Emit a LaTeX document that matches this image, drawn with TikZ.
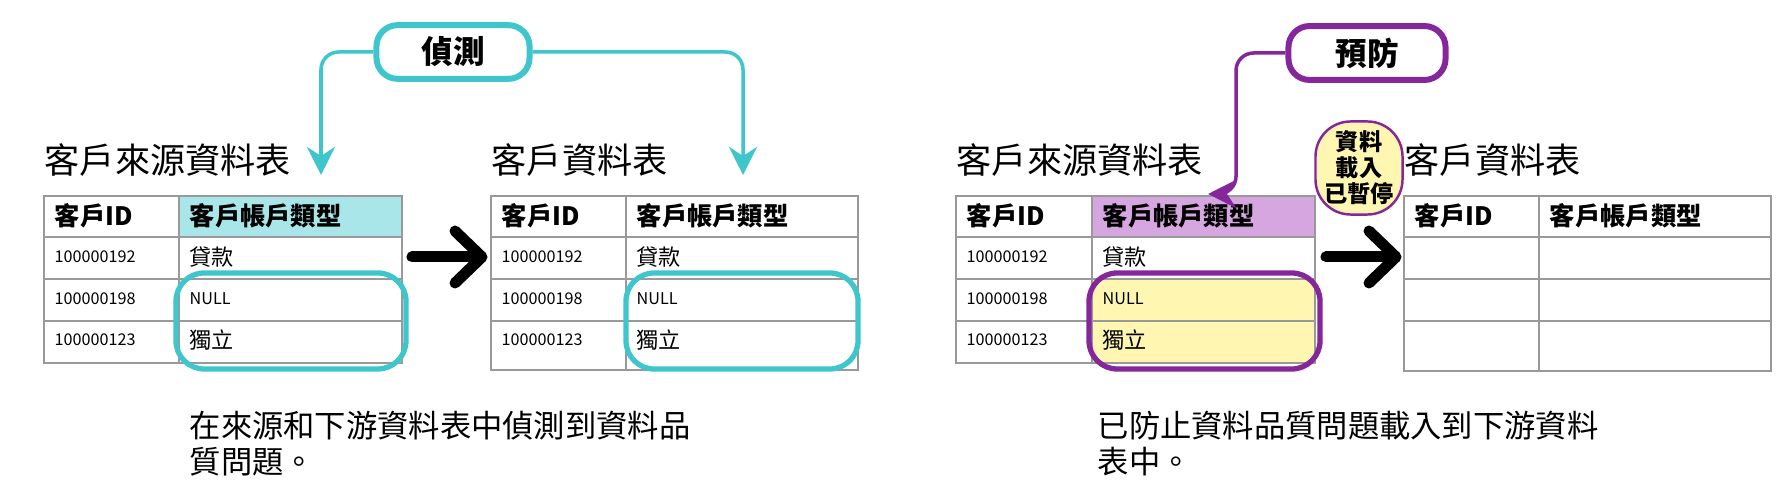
\documentclass[tikz,border=0pt]{standalone}
\usepackage{fontspec}
\setmainfont{Noto Sans CJK TC}
\usetikzlibrary{arrows.meta,positioning}
\definecolor{detcol}{HTML}{3EC6CC}
\definecolor{detlight}{HTML}{A8E6EA}
\definecolor{purp}{HTML}{85279B}
\definecolor{purplight}{HTML}{D6A6E0}
\definecolor{yel}{HTML}{FFF6B2}
\tikzstyle{grid}=[draw=black!40, line width=0.7pt]
\tikzstyle{title}=[anchor=west, font=\fontsize{10pt}{11pt}\selectfont, inner sep=0pt]
\tikzstyle{head}=[anchor=west, font=\fontsize{7.2pt}{8pt}\selectfont\bfseries, inner sep=0pt]
\tikzstyle{cell}=[anchor=west, font=\fontsize{6.3pt}{7pt}\selectfont, inner sep=0pt]
\tikzstyle{num}=[anchor=west, font=\fontsize{4.6pt}{5pt}\selectfont, inner sep=0pt]
\tikzstyle{caption}=[anchor=north west, align=left, font=\fontsize{8.9pt}{10.3pt}\selectfont, inner sep=0pt]
\tikzstyle{tag}=[draw, rounded corners=6pt, line width=1.7pt, fill=white, font=\fontsize{9pt}{10pt}\selectfont\bfseries, minimum height=0.52cm]
\tikzstyle{bigarrow}=[line width=0.11cm, line cap=round, line join=round]
% #1 left, #2 split, #3 right, #4 bottom
\newcommand{\gridtable}[4]
{
  \draw[grid] (#1,196) rectangle (#3,#4);
  \draw[grid] (#2,196) -- (#2,#4);
  \foreach \yy in {237,279,321}
    \draw[grid] (#1,\yy) -- (#3,\yy);
}
\begin{document}
\begin{tikzpicture}[x=0.01cm, y=-0.01cm]
  \useasboundingbox (0,0) rectangle (1782,504);

  % detection
  \fill[detlight] (179,196) rectangle (402,237);
  \gridtable{44}{179}{402}{363}
  \gridtable{491}{626}{858}{370}
  \node[title] (srcA) at (44,160) {客戶來源資料表};
  \node[title] (dstA) at (491,160) {客戶資料表};
  \node[head] at (54,216) {客戶ID};
  \node[head] at (189,216) {客戶帳戶類型};
  \node[head] at (501,216) {客戶ID};
  \node[head] at (636,216) {客戶帳戶類型};
  \foreach \xa/\xb in {54/189, 501/636}
  {
    \node[num] at (\xa,257) {100000192};
    \node[num] at (\xa,299) {100000198};
    \node[num] at (\xa,340) {100000123};
    \node[cell] at (\xb,257) {貸款};
    \node[cell, font=\fontsize{4.6pt}{5pt}\selectfont] at (\xb,299) {NULL};
    \node[cell] at (\xb,340) {獨立};
  }
  \draw[detcol, line width=1.5pt, rounded corners=8pt] (176,273) rectangle (406,369);
  \draw[detcol, line width=1.5pt, rounded corners=8pt] (626,273) rectangle (858,369);
  \draw[bigarrow] (412,257) -- (478,257);
  \draw[bigarrow] (455,231) -- (482,257) -- (455,283);
  \node[tag, draw=detcol, minimum width=1.53cm] (detect) at (453,52) {偵測};
  \coordinate (srcTip) at (321,175);
  \coordinate (dstTip) at (743,175);
  \draw[detcol, line width=1pt, rounded corners=5pt, -{Stealth[length=8pt,width=8pt]}] (detect.west) -| (srcTip);
  \draw[detcol, line width=1pt, rounded corners=5pt, -{Stealth[length=8pt,width=8pt]}] (detect.east) -| (dstTip);
  \node[caption] (capA) at (189,410) {在來源和下游資料表中偵測到資料品\\質問題。};

  % prevention
  \fill[purplight] (1092,196) rectangle (1315,237);
  \fill[yel] (1092,279) rectangle (1315,363);
  \gridtable{956}{1092}{1315}{363}
  \gridtable{1404}{1539}{1771}{371}
  \node[title] (srcB) at (956,160) {客戶來源資料表};
  \node[title] (dstB) at (1404,160) {客戶資料表};
  \node[head] at (966,216) {客戶ID};
  \node[head] at (1102,216) {客戶帳戶類型};
  \node[head] at (1414,216) {客戶ID};
  \node[head] at (1549,216) {客戶帳戶類型};
  \node[num] at (966,257) {100000192};
  \node[num] at (966,299) {100000198};
  \node[num] at (966,340) {100000123};
  \node[cell] at (1102,257) {貸款};
  \node[cell, font=\fontsize{4.6pt}{5pt}\selectfont] at (1102,299) {NULL};
  \node[cell] at (1102,340) {獨立};
  \draw[purp, line width=1.5pt, rounded corners=8pt] (1089,273) rectangle (1320,369);
  \draw[bigarrow] (1326,257) -- (1392,257);
  \draw[bigarrow] (1369,231) -- (1396,257) -- (1369,283);
  \node[draw=purp, fill=yel, line width=0.7pt, rounded corners=10pt, align=center, inner sep=1pt,
        minimum width=0.87cm, minimum height=0.93cm,
        font=\fontsize{6.6pt}{7.4pt}\selectfont\bfseries] (paused) at (1359,168) {資料\\載入\\已暫停};
  \node[tag, draw=purp, minimum width=1.57cm] (prevent) at (1367,53) {預防};
  \coordinate (hdrTip) at (1208,194);
  \draw[purp, line width=1pt, rounded corners=5pt, -{Stealth[length=8pt,width=8pt]}] (prevent.west) -| (1236,194) -- (hdrTip);
  \node[caption] (capB) at (1097,410) {已防止資料品質問題載入到下游資料\\表中。};
\end{tikzpicture}
\end{document}
